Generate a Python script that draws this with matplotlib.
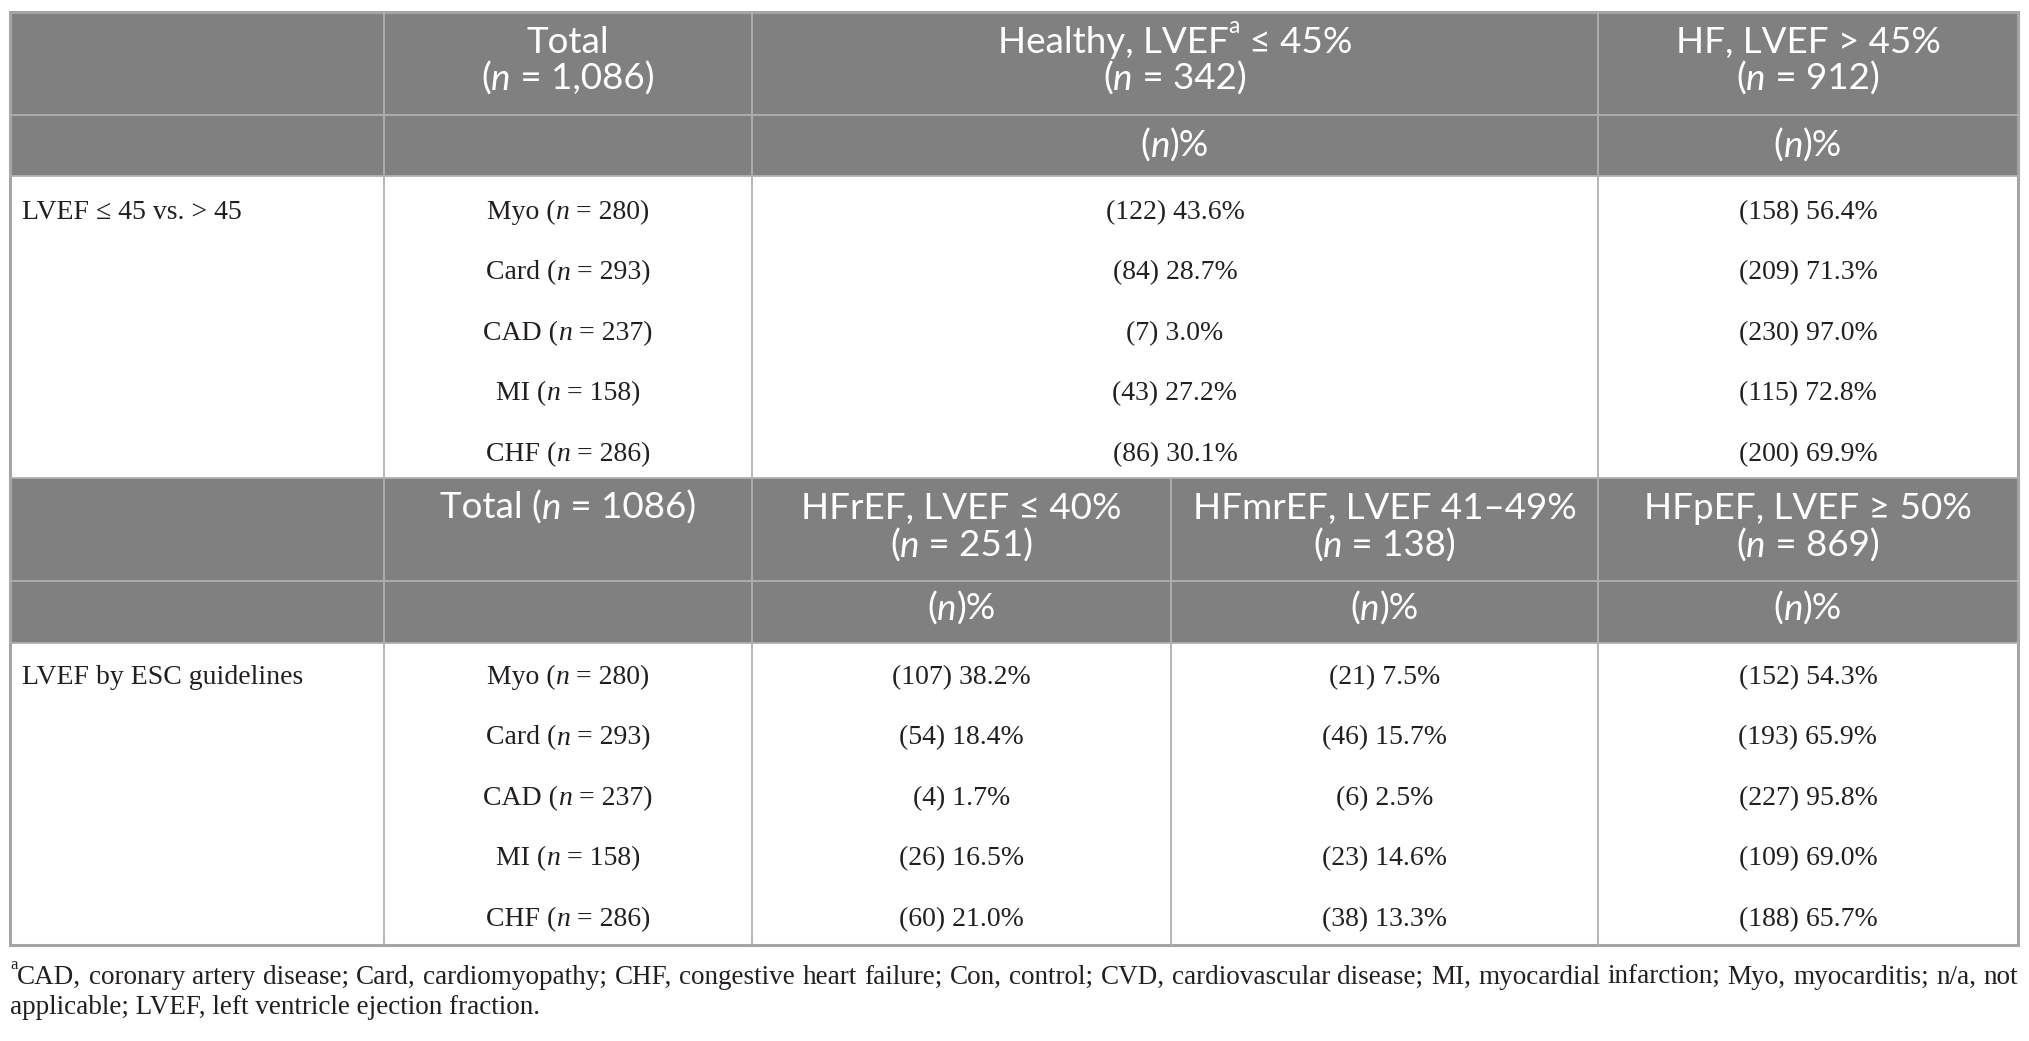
import matplotlib
matplotlib.use("Agg")
import matplotlib.pyplot as plt
from matplotlib.patches import Rectangle

# ---- data ----
diseases = ["Myo", "Card", "CAD", "MI", "CHF"]
disease_n = [280, 293, 237, 158, 286]

healthy_n = [122, 84, 7, 43, 86]
healthy_pct = [43.6, 28.7, 3.0, 27.2, 30.1]
hf_n = [158, 209, 230, 115, 200]
hf_pct = [56.4, 71.3, 97.0, 72.8, 69.9]

hfref_n = [107, 54, 4, 26, 60]
hfref_pct = [38.2, 18.4, 1.7, 16.5, 21.0]
hfmref_n = [21, 46, 6, 23, 38]
hfmref_pct = [7.5, 15.7, 2.5, 14.6, 13.3]
hfpef_n = [152, 193, 227, 109, 188]
hfpef_pct = [54.3, 65.9, 95.8, 69.0, 65.7]

section_labels = ["LVEF \u2264 45 vs. > 45", "LVEF by ESC guidelines"]
footnote = ["CAD, coronary artery disease; Card, cardiomyopathy; CHF, congestive heart failure; Con, control; "
            "CVD, cardiovascular disease; MI, myocardial infarction; Myo, myocarditis; n/a, not",
            "applicable; LVEF, left ventricle ejection fraction."]

# ---- figure in pixel coords ----
W, H = 2029, 1041
fig = plt.figure(figsize=(W / 100, H / 100), dpi=100)
ax = fig.add_axes([0, 0, 1, 1])
ax.set_xlim(0, W)
ax.set_ylim(H, 0)
ax.axis("off")
renderer = fig.canvas.get_renderer()

HEAD = ["Lato", "DejaVu Sans"]
BODY = ["Liberation Serif", "DejaVu Serif"]
GRAY = "#808080"
LINE = "#b0b0b0"
INK = "#231f20"

xl, xc1, xc2, xc3, xc4, xr = 10, 384, 752, 1171, 1598, 2018
y0, yh1, yh2, ys2, yh3, yh4, yb = 12, 115, 176, 478, 581, 643, 945


def run_kw(st, size, family, color, weight):
    return dict(fontsize=size * (0.62 if st == "s" else 1),
                fontstyle="italic" if st == "i" else "normal",
                family=family, color=color, fontweight=weight)


def text_w(s, kw):
    t = ax.text(0, 0, "|" + s + "|", **kw)
    w = t.get_window_extent(renderer).width
    t.remove()
    t = ax.text(0, 0, "||", **kw)
    w -= t.get_window_extent(renderer).width
    t.remove()
    return w


def runs(x, y, parts, size, family, color, weight="normal", ha="center"):
    kws = [run_kw(st, size, family, color, weight) for _, st in parts]
    ws = [text_w(s, k) for (s, _), k in zip(parts, kws)]
    cx = x - sum(ws) / 2 if ha == "center" else x
    for (s, st), k, w in zip(parts, kws, ws):
        dy = size * 0.55 * 100 / 72 if st == "s" else 0
        ax.text(cx, y - dy, s, va="baseline", ha="left", **k)
        cx += w
    return cx


def justified(x0, x1, y, line, size, family, color):
    kw = run_kw("r", size, family, color, "normal")
    words = line.split(" ")
    ws = [text_w(w, kw) for w in words]
    gap = (x1 - x0 - sum(ws)) / (len(words) - 1)
    cx = x0
    for w, wd in zip(words, ws):
        ax.text(cx, y, w, va="baseline", ha="left", **kw)
        cx += wd + gap


def nlabel(pre, n, post=""):
    return [(pre + "(", "r"), ("n", "i"), (" = " + n + ")" + post, "r")]


# header fills
ax.add_patch(Rectangle((xl, y0), xr - xl, yh2 - y0, color=GRAY, lw=0))
ax.add_patch(Rectangle((xl, ys2), xr - xl, yh4 - ys2, color=GRAY, lw=0))

# grid
lw_in = 1.3
for y in [yh1, yh2, ys2, yh3, yh4]:
    ax.plot([xl, xr], [y, y], color=LINE, lw=lw_in)
for x in [xc1, xc2, xc4]:
    ax.plot([x, x], [y0, ys2], color=LINE, lw=lw_in)
for x in [xc1, xc2, xc3, xc4]:
    ax.plot([x, x], [ys2, yb], color=LINE, lw=lw_in)
ax.add_patch(Rectangle((xl, y0), xr - xl, yb - y0, fill=False, ec="#a5a5a5", lw=2.2))

hs = 26.5
hw = "normal"
# section 1 header
runs((xc1 + xc2) / 2, 53, [("Total", "r")], hs, HEAD, "white", hw)
runs((xc1 + xc2) / 2, 90, nlabel("", "1,086"), hs, HEAD, "white", hw)
runs((xc2 + xc4) / 2, 53, [("Healthy, LVEF", "r"), ("a", "s"), (" \u2264 45%", "r")], hs, HEAD, "white", hw)
runs((xc2 + xc4) / 2, 90, nlabel("", "342"), hs, HEAD, "white", hw)
runs((xc4 + xr) / 2, 53, [("HF, LVEF > 45%", "r")], hs, HEAD, "white", hw)
runs((xc4 + xr) / 2, 90, nlabel("", "912"), hs, HEAD, "white", hw)
pct_hdr = [("(", "r"), ("n", "i"), (")%", "r")]
for x in [(xc2 + xc4) / 2, (xc4 + xr) / 2]:
    runs(x, 157, pct_hdr, hs, HEAD, "white", hw)

# section 2 header
runs((xc1 + xc2) / 2, 519, [("Total (", "r"), ("n", "i"), (" = 1086)", "r")], hs, HEAD, "white", hw)
heads2 = [("HFrEF, LVEF \u2264 40%", "251", (xc2 + xc3) / 2),
          ("HFmrEF, LVEF 41\u201349%", "138", (xc3 + xc4) / 2),
          ("HFpEF, LVEF \u2265 50%", "869", (xc4 + xr) / 2)]
for t, n, x in heads2:
    runs(x, 519, [(t, "r")], hs, HEAD, "white", hw)
    runs(x, 557, nlabel("", n), hs, HEAD, "white", hw)
    runs(x, 620, pct_hdr, hs, HEAD, "white", hw)

# bodies
bs = 20
step1 = (ys2 - yh2) / len(diseases)
step2 = (yb - yh4) / len(diseases)


def cell(n, p):
    return [("(%d) %.1f%%" % (n, p), "r")]


for i, d in enumerate(diseases):
    yb1 = yh2 + step1 * (i + 0.5) + 13
    runs((xc1 + xc2) / 2, yb1, nlabel(d + " ", str(disease_n[i])), bs, BODY, INK)
    runs((xc2 + xc4) / 2, yb1, cell(healthy_n[i], healthy_pct[i]), bs, BODY, INK)
    runs((xc4 + xr) / 2, yb1, cell(hf_n[i], hf_pct[i]), bs, BODY, INK)

    yb2 = yh4 + step2 * (i + 0.5) + 11
    runs((xc1 + xc2) / 2, yb2, nlabel(d + " ", str(disease_n[i])), bs, BODY, INK)
    runs((xc2 + xc3) / 2, yb2, cell(hfref_n[i], hfref_pct[i]), bs, BODY, INK)
    runs((xc3 + xc4) / 2, yb2, cell(hfmref_n[i], hfmref_pct[i]), bs, BODY, INK)
    runs((xc4 + xr) / 2, yb2, cell(hfpef_n[i], hfpef_pct[i]), bs, BODY, INK)

runs(22, yh2 + step1 * 0.5 + 13, [(section_labels[0], "r")], bs, BODY, INK, ha="left")
runs(22, yh4 + step2 * 0.5 + 11, [(section_labels[1], "r")], bs, BODY, INK, ha="left")

# footnote
fs = 19.5
x_start = runs(10, 984, [("a", "s")], fs, BODY, INK, ha="left")
justified(x_start, xr, 984, footnote[0], fs, BODY, INK)
runs(10, 1014, [(footnote[1], "r")], fs, BODY, INK, ha="left")

fig.savefig("out.png", dpi=100, facecolor="white")
